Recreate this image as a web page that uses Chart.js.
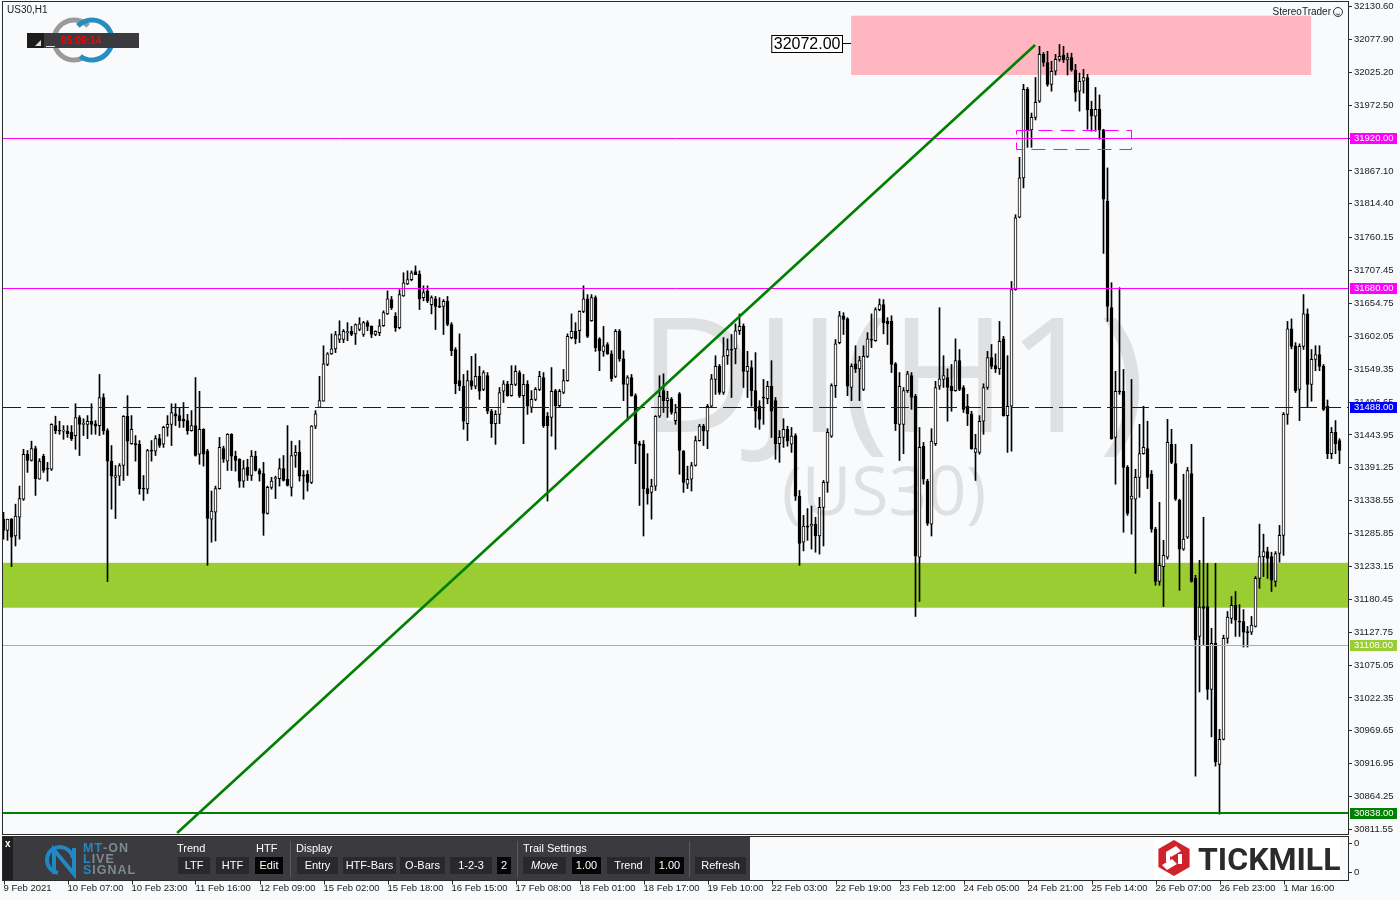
<!DOCTYPE html>
<html>
<head>
<meta charset="utf-8">
<script src="https://cdn.jsdelivr.net/npm/chart.js@4.4.1/dist/chart.umd.min.js"></script>
<style>
  html, body { margin: 0; padding: 0; background: #f8fafc; }
  #wrap { width: 1400px; height: 900px; }
</style>
</head>
<body>
<div id="wrap"><canvas id="chart" width="1400" height="900"></canvas></div>
<script>
// US30 H1 candles (one entry per hourly bar)
const opens = [
31309,31291,31309,31282,31312,31341,31413,31403,31422,31373,31410,31390,31389,31459,31451,31450,31450,31448,31443,31472,
31461,31461,31466,31462,31459,31504,31451,31402,31376,31378,31395,31474,31430,31430,31429,31358,31357,31419,31418,31438,
31429,31456,31461,31478,31475,31469,31467,31451,31459,31413,31453,31418,31309,31320,31358,31422,31402,31445,31410,31405,
31370,31392,31379,31410,31387,31382,31318,31360,31374,31374,31390,31373,31360,31411,31416,31379,31381,31368,31458,31488,
31498,31557,31574,31582,31597,31597,31608,31610,31606,31613,31605,31624,31618,31605,31608,31619,31638,31661,31634,31616,
31667,31686,31693,31706,31702,31664,31675,31653,31662,31650,31650,31658,31621,31581,31531,31522,31462,31531,31522,31538,
31517,31539,31482,31462,31477,31514,31526,31507,31525,31544,31507,31525,31488,31501,31517,31536,31474,31472,31515,31491,
31512,31531,31600,31610,31611,31642,31662,31627,31664,31598,31578,31589,31574,31538,31610,31566,31525,31536,31507,31430,
31429,31358,31352,31362,31474,31515,31499,31501,31467,31510,31418,31365,31373,31395,31435,31458,31450,31490,31533,31554,
31512,31571,31581,31582,31611,31618,31546,31552,31515,31490,31504,31502,31522,31499,31430,31440,31453,31429,31443,31346,
31272,31298,31298,31301,31282,31328,31368,31442,31523,31592,31635,31630,31520,31558,31550,31517,31570,31597,31595,31645,
31653,31626,31626,31558,31461,31461,31515,31539,31506,31248,31426,31370,31301,31430,31522,31533,31536,31522,31515,31563,
31520,31490,31478,31416,31416,31466,31520,31568,31555,31550,31598,31475,31490,31677,31793,31856,31998,31933,31953,31979,
32054,32041,32006,32027,32046,32053,32045,32049,32029,31995,32011,32017,31966,31955,31966,31933,31819,31648,31440,31514,
31514,31392,31341,31341,31376,31414,31422,31381,31293,31209,31233,31248,31429,31398,31339,31261,31280,31382,31214,31121,
31169,31169,31036,31110,30916,30956,31118,31150,31171,31145,31145,31128,31128,31137,31214,31249,31257,31249,31209,31254,
31283,31477,31614,31587,31517,31586,31638,31525,31565,31573,31554,31490,31414,31448,31435
];
const highs = [
31320,31309,31310,31333,31362,31421,31419,31434,31426,31406,31413,31400,31462,31474,31466,31459,31459,31459,31494,31475,
31470,31475,31494,31467,31541,31510,31454,31427,31395,31398,31475,31507,31475,31443,31435,31379,31421,31435,31443,31445,
31458,31475,31494,31494,31488,31496,31477,31483,31536,31514,31454,31421,31354,31362,31440,31426,31446,31446,31418,31406,
31403,31405,31419,31418,31390,31400,31362,31376,31378,31406,31411,31459,31434,31427,31435,31387,31387,31459,31483,31538,
31587,31576,31606,31610,31627,31613,31624,31618,31622,31632,31626,31627,31619,31611,31629,31643,31675,31666,31640,31677,
31704,31707,31707,31715,31707,31683,31683,31667,31666,31664,31661,31666,31624,31584,31606,31541,31547,31570,31574,31554,
31547,31544,31485,31483,31520,31531,31530,31555,31555,31547,31541,31531,31515,31520,31546,31544,31480,31552,31517,31517,
31549,31606,31638,31624,31643,31683,31669,31669,31667,31600,31618,31592,31579,31613,31613,31579,31539,31541,31510,31434,
31435,31414,31373,31475,31539,31542,31514,31504,31493,31512,31419,31394,31400,31442,31461,31461,31493,31541,31571,31557,
31600,31598,31605,31622,31638,31622,31578,31563,31576,31499,31533,31530,31563,31504,31451,31470,31458,31456,31446,31355,
31315,31326,31330,31312,31344,31371,31454,31526,31597,31642,31640,31632,31558,31587,31570,31587,31608,31638,31648,31662,
31661,31632,31635,31560,31544,31520,31546,31544,31509,31456,31432,31373,31454,31530,31648,31571,31550,31557,31598,31581,
31523,31509,31482,31445,31475,31526,31578,31589,31574,31626,31602,31571,31690,31797,31889,32006,32001,31960,32017,32067,
32057,32059,32043,32054,32070,32067,32056,32056,32038,32024,32030,32022,31979,32001,31989,31934,31872,31688,31546,31680,
31549,31395,31533,31389,31461,31490,31466,31387,31296,31336,31275,31469,31453,31429,31341,31381,31392,31429,31219,31243,
31312,31238,31134,31238,30972,31123,31161,31185,31193,31172,31164,31137,31153,31217,31301,31285,31264,31256,31257,31299,
31480,31626,31630,31592,31590,31669,31646,31581,31587,31587,31557,31500,31456,31467,31438
];
const lows = [
31277,31275,31233,31266,31277,31339,31384,31402,31347,31373,31384,31370,31387,31446,31445,31437,31440,31435,31421,31411,
31443,31438,31445,31445,31443,31445,31209,31325,31310,31363,31371,31379,31429,31402,31349,31339,31350,31402,31411,31424,
31424,31442,31427,31459,31456,31456,31445,31450,31410,31397,31394,31235,31272,31274,31357,31400,31387,31387,31386,31360,
31360,31371,31371,31386,31370,31283,31317,31357,31342,31362,31370,31362,31346,31392,31370,31341,31354,31366,31454,31488,
31498,31555,31573,31576,31592,31592,31595,31603,31589,31611,31602,31611,31600,31603,31603,31618,31637,31645,31610,31614,
31666,31685,31691,31701,31645,31659,31656,31638,31613,31648,31605,31619,31571,31510,31515,31453,31435,31517,31518,31501,
31515,31478,31440,31429,31462,31496,31506,31506,31523,31504,31430,31477,31480,31499,31515,31456,31338,31442,31421,31488,
31510,31530,31598,31590,31592,31640,31600,31626,31578,31547,31570,31573,31530,31536,31562,31499,31467,31506,31398,31331,
31282,31333,31309,31355,31472,31480,31472,31477,31461,31381,31352,31358,31354,31394,31434,31427,31422,31488,31509,31509,
31509,31557,31504,31558,31605,31520,31504,31490,31456,31453,31461,31494,31440,31405,31400,31424,31426,31416,31339,31235,
31258,31275,31261,31256,31253,31266,31352,31440,31504,31590,31605,31507,31499,31544,31499,31515,31568,31584,31594,31643,
31606,31589,31544,31451,31403,31414,31512,31485,31153,31177,31365,31299,31282,31427,31517,31520,31466,31482,31514,31515,
31480,31459,31421,31371,31413,31445,31517,31550,31544,31541,31474,31416,31418,31676,31792,31840,31905,31905,31949,31977,
32035,32003,31995,32021,32043,32041,32021,32027,31979,31963,31992,31934,31931,31931,31918,31735,31626,31437,31365,31509,
31288,31315,31285,31222,31344,31413,31358,31288,31203,31203,31169,31245,31398,31339,31195,31259,31278,31208,30897,31032,
31108,31020,30960,30913,30836,30955,31110,31142,31121,31121,31104,31104,31124,31136,31198,31217,31214,31193,31201,31240,
31251,31461,31582,31512,31467,31581,31488,31498,31547,31547,31483,31406,31406,31414,31398
];
const closes = [
31291,31309,31280,31314,31342,31413,31403,31422,31374,31402,31387,31389,31461,31451,31450,31450,31446,31438,31472,31461,
31461,31466,31461,31458,31504,31451,31402,31378,31379,31395,31474,31434,31453,31428,31358,31357,31419,31418,31438,31427,
31456,31461,31480,31474,31467,31466,31451,31459,31411,31453,31413,31310,31322,31358,31424,31405,31445,31410,31403,31370,
31390,31379,31410,31387,31381,31318,31360,31370,31375,31390,31371,31363,31411,31416,31378,31378,31368,31458,31478,31499,
31558,31574,31582,31605,31605,31610,31609,31605,31621,31622,31624,31618,31605,31610,31619,31640,31662,31648,31616,31669,
31688,31693,31704,31701,31662,31672,31659,31664,31650,31649,31658,31621,31579,31526,31523,31466,31531,31522,31538,31514,
31544,31482,31462,31477,31512,31526,31507,31525,31546,31506,31525,31490,31501,31517,31538,31459,31459,31514,31491,31514,
31531,31602,31610,31598,31642,31662,31602,31664,31584,31579,31587,31574,31534,31610,31566,31525,31536,31507,31430,31427,
31358,31350,31362,31474,31506,31499,31503,31480,31480,31419,31368,31373,31395,31435,31458,31450,31490,31534,31554,31512,
31571,31581,31580,31611,31618,31546,31554,31515,31482,31469,31503,31522,31482,31430,31440,31453,31434,31442,31346,31270,
31298,31296,31301,31282,31328,31368,31448,31523,31590,31635,31629,31522,31554,31550,31563,31570,31598,31596,31645,31653,
31624,31622,31557,31462,31522,31515,31542,31504,31250,31424,31373,31302,31434,31520,31534,31539,31520,31515,31563,31517,
31485,31478,31422,31422,31466,31520,31568,31554,31550,31594,31475,31490,31677,31792,31856,31998,31933,31953,31977,32054,
32041,32006,32027,32046,32051,32045,32049,32029,31993,32011,32017,31965,31955,31966,31933,31822,31650,31438,31514,31513,
31392,31318,31346,31376,31414,31424,31376,31293,31209,31235,31251,31432,31400,31341,31261,31277,31387,31209,31116,31168,
31166,31036,31110,30920,30956,31118,31152,31171,31147,31144,31128,31127,31139,31214,31249,31257,31246,31211,31254,31283,
31477,31614,31586,31515,31586,31638,31525,31565,31573,31554,31485,31414,31448,31430,31419
];

// time axis labels every 16 bars
const timeLabels = ['9 Feb 2021','10 Feb 07:00','10 Feb 23:00','11 Feb 16:00','12 Feb 09:00','15 Feb 02:00',
  '15 Feb 18:00','16 Feb 15:00','17 Feb 08:00','18 Feb 01:00','18 Feb 17:00','19 Feb 10:00','22 Feb 03:00',
  '22 Feb 19:00','23 Feb 12:00','24 Feb 05:00','24 Feb 21:00','25 Feb 14:00','26 Feb 07:00','26 Feb 23:00','1 Mar 16:00'];
const timeTickIdx = timeLabels.map((_, i) => i * 16);

// price axis ticks as printed by the terminal
const priceTicks = [32130.60,32077.90,32025.20,31972.50,31919.80,31867.10,31814.40,31760.15,31707.45,31654.75,
  31602.05,31549.35,31496.65,31443.95,31391.25,31338.55,31285.85,31233.15,31180.45,31127.75,31075.05,31022.35,
  30969.65,30916.95,30864.25,30811.55];

// horizontal levels drawn on the chart
const levelPrices = [31920, 31680, 31488, 31108, 30838];
const levelColors = ['#ff00ff', '#ff00ff', '#0000ff', '#9acd32', '#008000'];
const supportZone = [31167, 31239];
const resistZone = [32021, 32116];
const resistZoneBars = [211.9, 326.9];
const boxZone = [31902, 31933];
const boxZoneBars = [253, 281.9];
const trendFrom = [43.4, 30806];
const trendTo = [257.9, 32069];
const peakLabel = 32072;

const bg = '#f8fafc';
const axisFont = { family: 'Liberation Sans', size: 9.5 };

const bodies = opens.map((o, i) => ({ x: i, y: [o, closes[i]] }));
const wicks = lows.map((l, i) => ({ x: i, y: [l, highs[i]] }));
const bodyColors = opens.map((o, i) => closes[i] >= o ? '#ffffff' : '#000000');

function fmt(v) { return v.toFixed(2); }

const overlays = {
  id: 'overlays',
  beforeDraw(chart) {
    const c = chart.ctx;
    c.save();
    c.fillStyle = bg;
    c.fillRect(0, 0, chart.width, chart.height);
    c.restore();
  },
  beforeDatasetsDraw(chart) {
    const c = chart.ctx, a = chart.chartArea;
    const xs = chart.scales.x, ys = chart.scales.y;
    c.save();
    c.beginPath(); c.rect(a.left, a.top, a.width, a.height); c.clip();
    // watermark
    c.fillStyle = '#dfe0e2';
    c.textAlign = 'center';
    c.textBaseline = 'alphabetic';
    c.font = '160px "Open Sans"';
    c.fillText('DJI(H1)', 892, 432);
    c.font = '68px "Open Sans"';
    c.fillText('(US30)', 884, 515);
    // zones
    c.fillStyle = '#9acd32';
    let y1 = ys.getPixelForValue(supportZone[1]), y2 = ys.getPixelForValue(supportZone[0]);
    c.fillRect(a.left, y1, a.width, y2 - y1);
    c.fillStyle = '#ffb6c1';
    let x1 = xs.getPixelForValue(resistZoneBars[0]), x2 = xs.getPixelForValue(resistZoneBars[1]);
    y1 = ys.getPixelForValue(resistZone[1]); y2 = ys.getPixelForValue(resistZone[0]);
    c.fillRect(x1, y1, x2 - x1, y2 - y1);
    c.restore();
  },
  afterDatasetsDraw(chart) {
    const c = chart.ctx, a = chart.chartArea;
    const xs = chart.scales.x, ys = chart.scales.y;
    c.save();
    c.beginPath(); c.rect(a.left, a.top, a.width, a.height); c.clip();
    // levels
    levelPrices.forEach((p, i) => {
      const y = Math.round(ys.getPixelForValue(p)) + (i === 4 ? 0 : 0.5);
      c.strokeStyle = levelColors[i];
      c.lineWidth = i === 4 ? 2 : 1;
      c.setLineDash(i === 2 ? [18, 6] : []);
      c.beginPath(); c.moveTo(a.left, y); c.lineTo(a.right, y); c.stroke();
    });
    // dashed box around the breakdown
    const bx1 = Math.round(xs.getPixelForValue(boxZoneBars[0])) + 0.5;
    const bx2 = Math.round(xs.getPixelForValue(boxZoneBars[1])) + 0.5;
    const by1 = Math.round(ys.getPixelForValue(boxZone[1])) + 0.5;
    const by2 = Math.round(ys.getPixelForValue(boxZone[0])) + 0.5;
    c.strokeStyle = '#ff00ff'; c.lineWidth = 1; c.setLineDash([14, 8]);
    c.strokeRect(bx1, by1, bx2 - bx1, by2 - by1);
    c.setLineDash([]);
    // trend line
    c.strokeStyle = '#008000'; c.lineWidth = 2.6;
    c.beginPath();
    c.moveTo(xs.getPixelForValue(trendFrom[0]), ys.getPixelForValue(trendFrom[1]));
    c.lineTo(xs.getPixelForValue(trendTo[0]), ys.getPixelForValue(trendTo[1]));
    c.stroke();
    // peak price label
    const py = Math.round(ys.getPixelForValue(peakLabel)) + 0.5;
    const zx = xs.getPixelForValue(resistZoneBars[0]);
    c.strokeStyle = '#000'; c.lineWidth = 1;
    c.beginPath(); c.moveTo(zx - 9, py); c.lineTo(zx, py); c.stroke();
    c.font = '16px "Liberation Sans"';
    const tw = c.measureText(fmt(peakLabel)).width;
    const rx = Math.round(zx - 9) + 0.5;
    c.fillStyle = '#fff';
    c.fillRect(rx - tw - 4, py - 8, tw + 4, 17);
    c.strokeRect(rx - tw - 4, py - 8, tw + 4, 17);
    c.fillStyle = '#000'; c.textAlign = 'right'; c.textBaseline = 'middle';
    c.fillText(fmt(peakLabel), rx - 2, py + 1);
    c.restore();
  },
  afterDraw(chart) {
    const c = chart.ctx, a = chart.chartArea;
    const xs = chart.scales.x, ys = chart.scales.y;
    c.save();
    // frame of the main window
    c.strokeStyle = '#2b2b2b'; c.lineWidth = 1;
    c.strokeRect(a.left - 0.5, a.top - 0.5, a.width + 1, a.height + 1);
    // level tags on the price axis
    c.font = '9.5px "Liberation Sans"';
    c.textBaseline = 'middle'; c.textAlign = 'left';
    levelPrices.forEach((p, i) => {
      const y = Math.round(ys.getPixelForValue(p));
      c.fillStyle = levelColors[i];
      c.fillRect(a.right + 2, y - 5, 47, 11);
      c.fillStyle = '#fff';
      c.fillText(fmt(p), a.right + 6, y + 0.5);
    });
    // indicator sub-window
    const top = 837, bot = 880;
    c.fillStyle = bg;
    c.fillRect(a.left, top, a.width, bot - top);
    c.strokeStyle = '#2b2b2b';
    c.strokeRect(a.left - 0.5, top - 0.5, a.width + 1, bot - top + 1);
    c.fillStyle = '#1a1a1a'; c.font = '9.5px "Liberation Sans"';
    c.fillText('0', a.right + 6, 843);
    c.fillText('0', a.right + 6, 872);
    c.beginPath();
    c.moveTo(a.right, 843.5); c.lineTo(a.right + 4, 843.5);
    c.moveTo(a.right, 872.5); c.lineTo(a.right + 4, 872.5);
    // time tick marks
    timeTickIdx.forEach(v => {
      const x = Math.round(xs.getPixelForValue(v)) + 0.5;
      c.moveTo(x, bot + 0.5); c.lineTo(x, bot + 4.5);
    });
    c.stroke();

    // MT-ON control panel
    c.fillStyle = '#3b3a3f';
    c.fillRect(3, top, 747, bot - top);
    c.fillStyle = '#1e1e20';
    c.fillRect(3, top, 10, bot - top);
    c.fillStyle = '#fff'; c.font = 'bold 10px "Liberation Sans"';
    c.textAlign = 'left'; c.fillText('x', 5, 844);
    // logo glyph
    c.strokeStyle = '#2288c4'; c.lineWidth = 4;
    c.beginPath(); c.arc(60, 860, 13, Math.PI * 0.55, Math.PI * 1.95); c.stroke();
    c.beginPath(); c.moveTo(54, 874); c.lineTo(54, 850); c.lineTo(74, 874); c.lineTo(74, 848); c.stroke();
    c.font = 'bold 12.5px "Liberation Sans"';
    const logoRow = (parts, y) => {
      let x = 83;
      parts.forEach(([t, col]) => {
        c.fillStyle = col;
        for (const ch of t) { c.fillText(ch, x, y); x += c.measureText(ch).width + 1; }
      });
    };
    logoRow([['MT', '#2288c4'], ['-ON', '#7d8a93']], 849);
    logoRow([['L', '#2288c4'], ['IVE', '#7d8a93']], 860);
    logoRow([['S', '#2288c4'], ['IGNAL', '#7d8a93']], 871);
    // labels and buttons
    c.font = '11px "Liberation Sans"';
    c.fillStyle = '#fff';
    [['Trend', 177], ['HTF', 256], ['Display', 296], ['Trail Settings', 523]].forEach(([t, x]) => c.fillText(t, x, 849));
    const buttons = [['LTF', 178, 210, 0], ['HTF', 216, 249, 0], ['Edit', 255, 283, 1], ['Entry', 297, 338, 0],
      ['HTF-Bars', 343, 396, 0], ['O-Bars', 400, 445, 0], ['1-2-3', 450, 492, 0], ['2', 497, 511, 1],
      ['Move', 523, 566, 0], ['1.00', 572, 601, 1], ['Trend', 607, 650, 0], ['1.00', 655, 684, 1], ['Refresh', 695, 746, 0]];
    c.textAlign = 'center';
    buttons.forEach(([t, x1, x2, dark]) => {
      c.fillStyle = dark ? '#050505' : '#29282c';
      c.fillRect(x1, 857, x2 - x1, 17);
      c.fillStyle = '#fff';
      c.font = (t === 'Move' ? 'italic ' : '') + '11px "Liberation Sans"';
      c.fillText(t, (x1 + x2) / 2, 865.5);
    });
    c.fillStyle = '#5a595e';
    [290, 517, 689].forEach(x => c.fillRect(x, 841, 1, 36));

    // broker logo
    c.fillStyle = '#fff';
    c.fillRect(1154, 838, 186, 42);
    c.fillStyle = '#d0222a';
    c.beginPath();
    const hx = 1174, hy = 858, hr = 18;
    for (let k = 0; k < 6; k++) {
      const ang = Math.PI / 6 + k * Math.PI / 3;
      const px = hx + hr * Math.cos(ang), py = hy + hr * Math.sin(ang);
      k ? c.lineTo(px, py) : c.moveTo(px, py);
    }
    c.closePath(); c.fill();
    c.fillStyle = '#fff';
    c.beginPath(); c.moveTo(1166, 852); c.lineTo(1176, 846); c.lineTo(1181, 851); c.lineTo(1171, 857); c.closePath(); c.fill();
    c.beginPath(); c.moveTo(1177, 864); c.lineTo(1167, 870); c.lineTo(1162, 865); c.lineTo(1172, 859); c.closePath(); c.fill();
    c.fillRect(1166, 852, 4, 10);
    c.fillRect(1178, 854, 4, 10);
    c.fillStyle = '#2b2b2b';
    c.font = 'bold 32px Roboto';
    c.textAlign = 'left'; c.textBaseline = 'alphabetic';
    c.fillText('TICKMILL', 1198, 870);

    // header texts
    c.font = '10px "Liberation Sans"';
    c.fillStyle = '#1a1a1a'; c.textBaseline = 'middle';
    c.fillText('US30,H1', 7, 10);
    c.textAlign = 'right';
    c.fillText('StereoTrader', 1331, 12);
    c.strokeStyle = '#333'; c.lineWidth = 1;
    c.beginPath(); c.arc(1338, 12, 4.5, 0, Math.PI * 2); c.stroke();
    c.beginPath(); c.arc(1338, 12.5, 2.3, 0.15 * Math.PI, 0.85 * Math.PI); c.stroke();

    // countdown badge with rings
    c.lineWidth = 5;
    c.strokeStyle = '#9a9a9a';
    c.beginPath(); c.arc(74, 40, 20, Math.PI * 0.35, Math.PI * 1.75); c.stroke();
    c.strokeStyle = '#268fc2';
    c.beginPath(); c.arc(92, 40, 20, Math.PI * 1.25, Math.PI * 0.7); c.stroke();
    c.fillStyle = '#3b3a3f';
    c.fillRect(27, 33, 112, 15);
    c.fillStyle = '#1c1c1c';
    c.fillRect(27, 33, 17, 15);
    c.fillStyle = '#ddd';
    c.beginPath(); c.moveTo(41, 40); c.lineTo(41, 46); c.lineTo(35, 46); c.closePath(); c.fill();
    c.fillRect(46, 46, 9, 1);
    c.fillStyle = '#ff0000';
    c.font = 'bold 10px "Liberation Sans"';
    c.textAlign = 'left'; c.textBaseline = 'middle';
    c.fillText('05:09:14', 61, 41);
    c.restore();
  }
};

new Chart(document.getElementById('chart'), {
  type: 'bar',
  data: {
    datasets: [
      { label: 'body', data: bodies, backgroundColor: bodyColors, borderColor: '#000', borderWidth: 1,
        borderSkipped: false, barThickness: 3, minBarLength: 1, grouped: false, order: 1 },
      { label: 'wick', data: wicks, backgroundColor: '#000', borderWidth: 0,
        barThickness: 1, grouped: false, order: 2 }
    ]
  },
  options: {
    responsive: false,
    animation: false,
    events: [],
    layout: { padding: { left: 3, top: 2, right: 0, bottom: 0 } },
    plugins: { legend: { display: false }, tooltip: { enabled: false } },
    scales: {
      x: {
        type: 'linear', min: -0.125, max: 336.125, offset: false,
        grid: { display: false, drawTicks: false }, border: { display: false },
        afterBuildTicks: s => { s.ticks = timeTickIdx.map(v => ({ value: v })); },
        afterFit: s => { s.height = 66; s.paddingLeft = 0; s.paddingRight = 0; },
        ticks: { autoSkip: false, maxRotation: 0, minRotation: 0, align: 'start', padding: 49,
          font: axisFont, color: '#1a1a1a', callback: (v, i) => timeLabels[i] }
      },
      y: {
        position: 'right', min: 30804.3, max: 32138.0,
        grid: { drawOnChartArea: false, drawTicks: true, tickLength: 4, color: '#2b2b2b' },
        border: { display: false },
        afterBuildTicks: s => { s.ticks = priceTicks.map(v => ({ value: v })); },
        afterFit: s => { s.width = 52; s.paddingTop = 0; s.paddingBottom = 0; },
        ticks: { padding: 2, font: axisFont, color: '#1a1a1a', callback: v => fmt(v) }
      }
    }
  },
  plugins: [overlays]
});
</script>
</body>
</html>
